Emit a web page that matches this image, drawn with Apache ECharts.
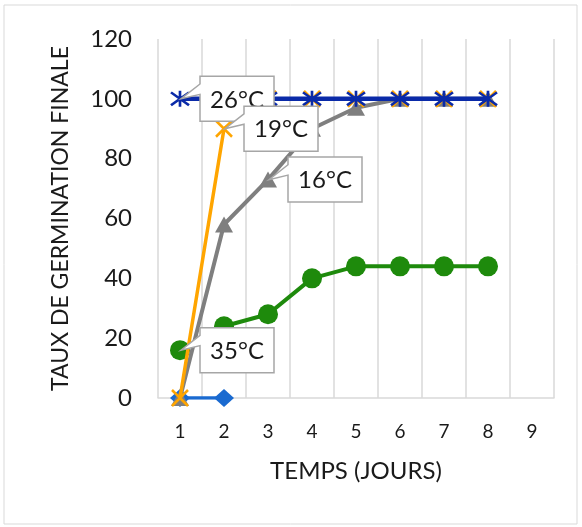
<!DOCTYPE html>
<html>
<head>
<meta charset="utf-8">
<script src="https://cdn.jsdelivr.net/npm/echarts@6/dist/echarts.min.js"></script>
<style>
html,body{margin:0;padding:0;background:#fff;}
#c{width:582px;height:527px;}
</style>
</head>
<body>
<div id="c"></div>
<script>
// ---- data ----
const categories = ['1','2','3','4','5','6','7','8','9'];
const yTicks = [0, 20, 40, 60, 80, 100, 120];
const seriesNames = ['35°C', 'Série 5', '16°C', '19°C', '26°C'];
const values35 = [16, 24, 28, 40, 44, 44, 44, 44];
const valuesS5 = [0, 0];
const values16 = [0, 58, 73, 90, 97, 100, 100, 100];
const values19 = [0, 90, 100, 100, 100, 100, 100, 100];
const values26 = [100, 100, 100, 100, 100, 100, 100, 100];
// callouts: which series (index into the lists above) and which point
const calloutSeries = [4, 3, 2, 0];
const calloutPoint = [0, 1, 2, 0];

const FONT = 'Lato';
const allValues = [values35, valuesS5, values16, values19, values26];

const asterisk = 'path://M10,0L10,20M0,2L20,18M0,18L20,2';
const cross = 'path://M0,0L20,20M0,20L20,0';

const styles = [
  { color: '#1e8a0c', symbol: 'circle', size: 20, width: 4 },
  { color: '#1a6ad0', symbol: 'diamond', size: [20, 18], width: 3.5 },
  { color: '#7f7f7f', symbol: 'triangle', size: [18, 16], width: 4 },
  { color: '#ffa500', symbol: cross, size: [16, 16], width: 3.5, stroke: true },
  { color: '#0a2aa8', symbol: asterisk, size: [18, 16], width: 4.5, stroke: true }
];

const series = allValues.map((vals, k) => {
  const st = styles[k];
  return {
    name: seriesNames[k],
    type: 'line',
    data: vals,
    symbol: st.symbol,
    symbolSize: st.size,
    showAllSymbol: true,
    lineStyle: { color: st.color, width: st.width },
    itemStyle: st.stroke
      ? { color: 'rgba(0,0,0,0)', borderColor: st.color, borderWidth: 2.5 }
      : { color: st.color, borderWidth: 0 },
    emphasis: { disabled: true },
    animation: false,
    z: 2 + k * 0.1
  };
});

// callout boxes (Excel-like wedge callouts), positioned from the data point via api.coord
const calloutData = calloutSeries.map((s, i) => [calloutPoint[i], allValues[s][calloutPoint[i]], seriesNames[s]]);

series.push({
  type: 'custom',
  data: calloutData,
  z: 10,
  silent: true,
  animation: false,
  renderItem: function (params, api) {
    const p = api.coord([api.value(0), api.value(1)]);
    const text = calloutData[params.dataIndex][2];
    const w = 74, h = 45, dx = 57;
    const bx = p[0] + dx - w / 2;
    const by = p[1] - h / 2;
    const pts = [
      [bx, by], [bx + w, by], [bx + w, by + h], [bx, by + h],
      [bx, by + h * 0.40], [p[0] + 1, p[1]], [bx, by + h * 0.17]
    ];
    return {
      type: 'group',
      children: [
        {
          type: 'polygon',
          shape: { points: pts },
          style: { fill: '#ffffff', stroke: '#a6a6a6', lineWidth: 1.5 }
        },
        {
          type: 'text',
          style: {
            text: text, x: bx + w / 2, y: by + h / 2 + 1,
            align: 'center', verticalAlign: 'middle',
            fontFamily: FONT, fontSize: 24, fill: '#1a1a1a'
          }
        }
      ]
    };
  }
});

const chart = echarts.init(document.getElementById('c'), null, { renderer: 'canvas' });
chart.setOption({
  animation: false,
  textStyle: { fontFamily: FONT },
  graphic: [{
    type: 'rect',
    shape: { x: 4, y: 5, width: 573, height: 519 },
    style: { fill: 'none', stroke: '#d9d9d9', lineWidth: 1 },
    silent: true,
    z: -10
  }],
  grid: { left: 158, right: 28, top: 39, bottom: 129, containLabel: false },
  xAxis: {
    type: 'category',
    data: categories,
    boundaryGap: true,
    name: 'TEMPS (JOURS)',
    nameLocation: 'middle',
    nameGap: 61,
    nameTextStyle: { fontFamily: FONT, fontSize: 24, color: '#1a1a1a' },
    axisLine: { show: true, lineStyle: { color: '#d9d9d9', width: 1.5 } },
    axisTick: { show: false },
    axisLabel: { fontFamily: FONT, fontSize: 19, color: '#1a1a1a', margin: 24 },
    splitLine: { show: true, lineStyle: { color: '#d9d9d9', width: 1.5 } }
  },
  yAxis: {
    type: 'value',
    min: yTicks[0],
    max: yTicks[yTicks.length - 1],
    interval: yTicks[1] - yTicks[0],
    name: 'TAUX DE GERMINATION FINALE',
    nameLocation: 'middle',
    nameGap: 86,
    nameTextStyle: { fontFamily: FONT, fontSize: 23, color: '#1a1a1a' },
    axisLine: { show: false },
    axisTick: { show: false },
    axisLabel: { fontFamily: FONT, fontSize: 24, color: '#1a1a1a', margin: 26 },
    splitLine: { show: false }
  },
  series: series
});
</script>
</body>
</html>
